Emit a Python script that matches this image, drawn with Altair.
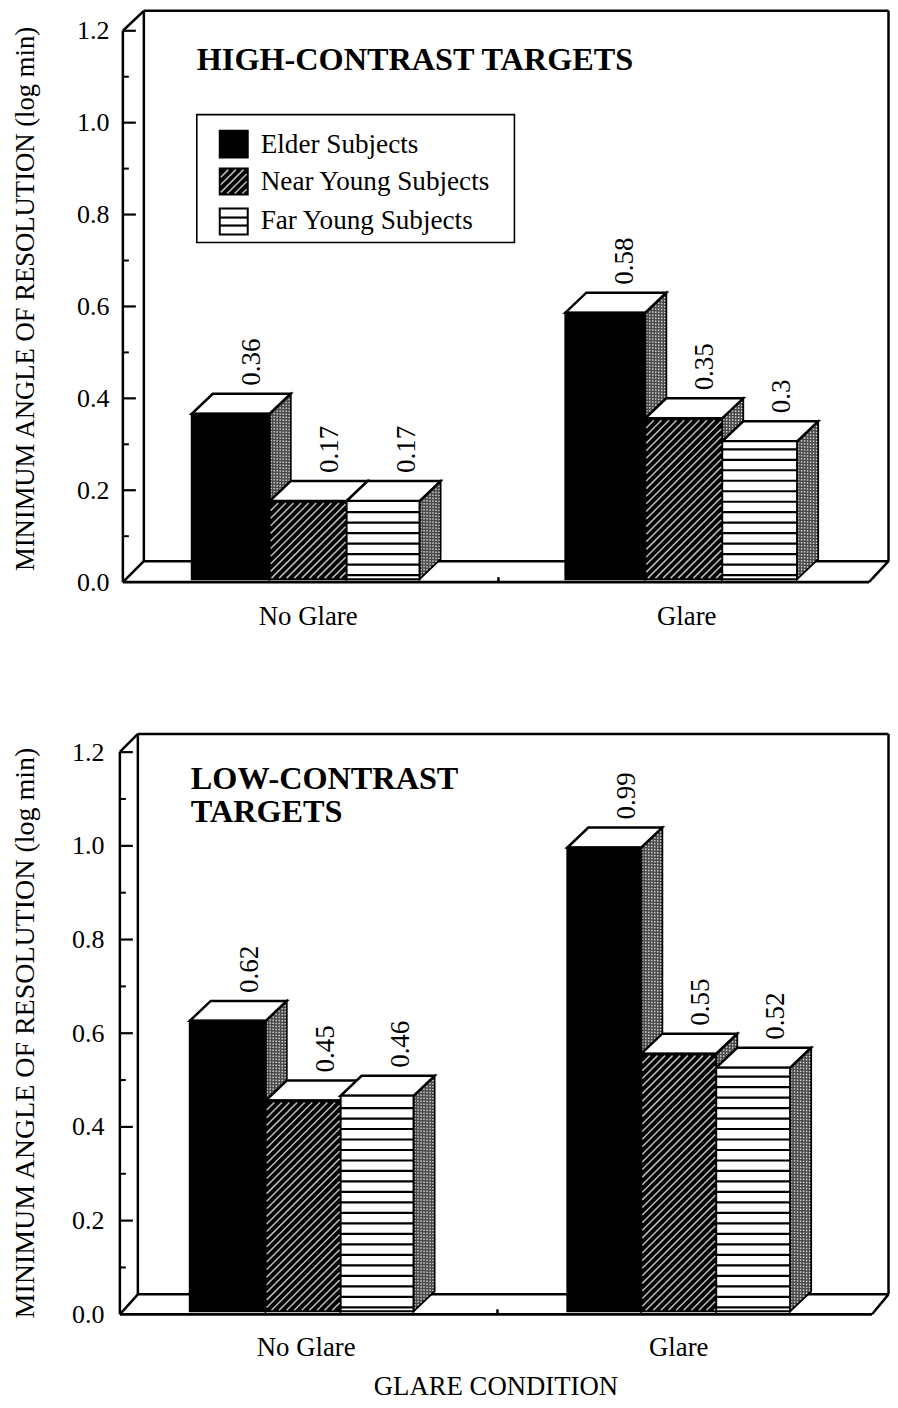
import altair as alt
import pandas as pd

FONT = "Liberation Serif"
categories = ["No Glare", "Glare"]
series = ["Elder Subjects", "Near Young Subjects", "Far Young Subjects"]
y_ticks = [0.0, 0.2, 0.4, 0.6, 0.8, 1.0, 1.2]
minor_ticks = [0.1, 0.3, 0.5, 0.7, 0.9, 1.1]

high_elder = [0.36, 0.58]
high_near = [0.17, 0.35]
high_far = [0.17, 0.3]
low_elder = [0.62, 0.99]
low_near = [0.45, 0.55]
low_far = [0.46, 0.52]

Y_TITLE = "MINIMUM ANGLE OF RESOLUTION (log min)"

HIGH = dict(
    top=8, y0=582, k=460, height=574, axis_x=122, wall_x=143, wall_r=888.5, front_r=869,
    wall_top=10, wall_bot=561, tick12=30,
    edges=[[191, 269, 346, 419], [565, 645, 722, 797]],
    label_pad=11, title_y=290, title_size=26.7, x_pad=21, cat_x=[307, 686], mid_tick=498,
)
LOW = dict(
    top=730, y0=1314, k=469, height=584, axis_x=119, wall_x=137, wall_r=888.5, front_r=872,
    wall_top=733, wall_bot=1294, tick12=751,
    edges=[[189, 265, 340, 413], [567, 641, 716, 790]],
    label_pad=16, title_y=302, title_size=28, x_pad=20, cat_x=[305, 678], mid_tick=497,
)
X_DOMAIN = [119, 890]
DX, DY, LIFT = 21, 20, 3


def hatch(x0, x1, ytop_px, ybot_px, to_y, step=7.6):
    rows = []
    c = x0 - (ybot_px - ytop_px)
    while c < x1:
        sx, sy = c, ybot_px
        ex, ey = c + (ybot_px - ytop_px), ytop_px
        if sx < x0:
            sy -= x0 - sx
            sx = x0
        if ex > x1:
            ey += ex - x1
            ex = x1
        if ex > sx:
            rows.append((sx, ex, to_y(sy), to_y(ey)))
        c += step
    return rows


def panel(cfg, elder, near, far, title_lines, title_x, title_y, with_legend, x_title):
    k, y0 = cfg["k"], cfg["y0"]
    to_y = lambda p: (y0 - p) / k
    xs = alt.Scale(domain=X_DOMAIN, nice=False, zero=False)
    ys = alt.Scale(domain=[0, cfg["height"] / k], nice=False, zero=False)
    lift = LIFT / k
    dy = DY / k

    x_kw = dict(
        values=cfg["cat_x"], domain=False, ticks=False, tickSize=0, grid=False,
        labelPadding=cfg["x_pad"], labelFontSize=26.8, labelFont=FONT, labelColor="black",
        labelExpr=f"datum.value < 500 ? '{categories[0]}' : '{categories[1]}'",
        labelAngle=0, title=x_title,
    )
    if x_title:
        x_kw.update(
            titleFont=FONT, titleFontSize=26.8, titleFontWeight="normal", titleColor="black",
            titleX=495 - 119, titleY=72, titleAlign="center", titleBaseline="middle",
        )
    x_axis = alt.Axis(**x_kw)
    y_axis = alt.Axis(
        values=y_ticks, format=".1f", domain=False, ticks=False, tickSize=0, grid=False,
        labelPadding=cfg["label_pad"], labelFontSize=26, labelFont=FONT, labelColor="black",
        title=Y_TITLE, titleFont=FONT, titleFontSize=cfg["title_size"], titleFontWeight="normal",
        titleColor="black", titleAngle=270, titleX=-94, titleY=cfg["title_y"],
        titleAlign="center", titleBaseline="middle",
    )
    X = alt.X("x:Q", scale=xs, axis=x_axis)
    Y = alt.Y("y:Q", scale=ys, axis=y_axis)

    def segs(rows, width, color="black", dash=None):
        kw = {"strokeWidth": width, "color": color}
        if dash:
            kw["strokeDash"] = dash
        return alt.Chart(pd.DataFrame(rows, columns=["x", "x2", "y", "y2"])).mark_rule(**kw).encode(
            x=X, x2="x2:Q", y=Y, y2="y2:Q"
        )

    rects, sides, tops, labels, hatches, stripes, dither = [], [], [], [], [], [], []
    for g in range(2):
        e = cfg["edges"][g]
        for s, vals in enumerate([elder, near, far]):
            v = vals[g]
            a, b = e[s], e[s + 1]
            t = v + lift
            rects.append(dict(x=a, x2=b, y=lift, y2=t, fill=["black", "black", "white"][s]))
            sid = f"{g}-{s}"
            sides += [
                dict(id=sid, x=b, y=lift, y2=t),
                dict(id=sid, x=b + DX, y=lift + dy, y2=t + dy),
            ]
            tops += [
                dict(id=sid, x=a, y=t, y2=t),
                dict(id=sid, x=a + DX, y=t, y2=t + dy),
                dict(id=sid, x=b, y=t, y2=t + dy),
                dict(id=sid, x=b + DX, y=t + dy, y2=t + dy),
            ]
            labels.append(dict(x=a + 60, y=t + dy + 8 / k, text=str(v)))
            px_top = y0 - t * k
            px_bot = y0 - lift * k
            if s == 1:
                hatches += hatch(a + 1, b - 1, px_top + 2, px_bot - 1, to_y)
            if s == 2:
                p = px_bot - 4
                while p > px_top + 3:
                    stripes.append((a, b, to_y(p), to_y(p)))
                    p -= 10.5
            xx = b + 1.5
            while xx < b + DX:
                f = (xx - b) / DX
                dither.append((xx, xx, lift + f * dy + 1.5 / k, t + f * dy - 1.5 / k))
                xx += 3

    ax, wx, wr, fr = cfg["axis_x"], cfg["wall_x"], cfg["wall_r"], cfg["front_r"]
    wt, wb = to_y(cfg["wall_top"]), to_y(cfg["wall_bot"])
    t12 = to_y(cfg["tick12"])
    frame = segs(
        [
            (wx, wr, wt, wt), (wx, wx, wt, wb), (wr, wr, wt, wb), (wx, wr, wb, wb),
            (ax, wx, t12, wt), (ax, wx, 0, wb), (fr, wr, 0, wb), (ax, ax, 0, t12),
        ],
        2.5,
    )
    major = segs([(ax, ax + 13, v, v) for v in y_ticks[1:]], 2.2)
    minor = segs([(ax, ax + 6, v, v) for v in minor_ticks], 2)

    side = alt.Chart(pd.DataFrame(sides)).mark_area(
        fill="#4a4a4a", stroke="black", strokeWidth=2
    ).encode(x=X, y=Y, y2="y2:Q", detail="id:N")
    dith = segs(dither, 1.4, "#d8d8d8", [1.5, 1.5])
    top = alt.Chart(pd.DataFrame(tops)).mark_area(
        fill="white", stroke="black", strokeWidth=2.5
    ).encode(x=X, y=Y, y2="y2:Q", detail="id:N")
    front = alt.Chart(pd.DataFrame(rects)).mark_rect(stroke="black", strokeWidth=2).encode(
        x=X, x2="x2:Q", y=Y, y2="y2:Q", fill=alt.Fill("fill:N", scale=None),
    )
    hatch_l = segs(hatches, 1.5, "#bdbdbd")
    stripe_l = segs(stripes, 2.2)
    floor = segs([(ax, fr, 0, 0)], 2.8)
    mid = segs([(cfg["mid_tick"], cfg["mid_tick"], 0, 5 / k)], 2.5)
    value_text = alt.Chart(pd.DataFrame(labels)).mark_text(
        angle=270, align="left", baseline="middle", font=FONT, fontSize=27, color="black"
    ).encode(x=X, y=Y, text="text:N")

    title_df = pd.DataFrame(
        [dict(x=title_x, y=to_y(p), text=t) for t, p in zip(title_lines, title_y)]
    )
    title = alt.Chart(title_df).mark_text(
        align="left", baseline="middle", font=FONT, fontSize=32.3, fontWeight="bold", color="black"
    ).encode(x=X, y=Y, text="text:N")

    layers = [frame, major, minor, side, dith, top, front, hatch_l, stripe_l, floor, mid,
              value_text, title]

    if with_legend:
        box = alt.Chart(pd.DataFrame([dict(x=196, x2=514, y=to_y(114), y2=to_y(242))])).mark_rect(
            fill="white", stroke="black", strokeWidth=1.6
        ).encode(x=X, x2="x2:Q", y=Y, y2="y2:Q")
        sw_y = [(130, 157), (168, 194), (208, 234)]
        sw = alt.Chart(pd.DataFrame([
            dict(x=219, x2=247, y=to_y(a), y2=to_y(b), fill=f)
            for (a, b), f in zip(sw_y, ["black", "black", "white"])
        ])).mark_rect(stroke="black", strokeWidth=2).encode(
            x=X, x2="x2:Q", y=Y, y2="y2:Q", fill=alt.Fill("fill:N", scale=None),
        )
        sw_h = segs(hatch(220, 246, 169, 193, to_y), 1.5, "#bdbdbd")
        sw_s = segs([(219, 247, to_y(p), to_y(p)) for p in [217, 225]], 2.2)
        leg_t = alt.Chart(pd.DataFrame([
            dict(x=260, y=to_y(p), text=t) for t, p in zip(series, [144, 181, 220])
        ])).mark_text(align="left", baseline="middle", font=FONT, fontSize=27.2, color="black").encode(
            x=X, y=Y, text="text:N"
        )
        layers += [box, sw, sw_h, sw_s, leg_t]

    return alt.layer(*layers).properties(width=X_DOMAIN[1] - X_DOMAIN[0], height=cfg["height"])


top_panel = panel(HIGH, high_elder, high_near, high_far, ["HIGH-CONTRAST TARGETS"], 196, [59], True, None)
bottom_panel = panel(LOW, low_elder, low_near, low_far, ["LOW-CONTRAST", "TARGETS"], 190, [778, 811], False,
                     "GLARE CONDITION")

chart = alt.vconcat(top_panel, bottom_panel, spacing=101).properties(
    padding={"left": 3, "top": 0, "right": 0, "bottom": 0}, background="white"
).configure_view(stroke=None)

chart.save("out.html", embed_options={"renderer": "svg", "actions": False})
